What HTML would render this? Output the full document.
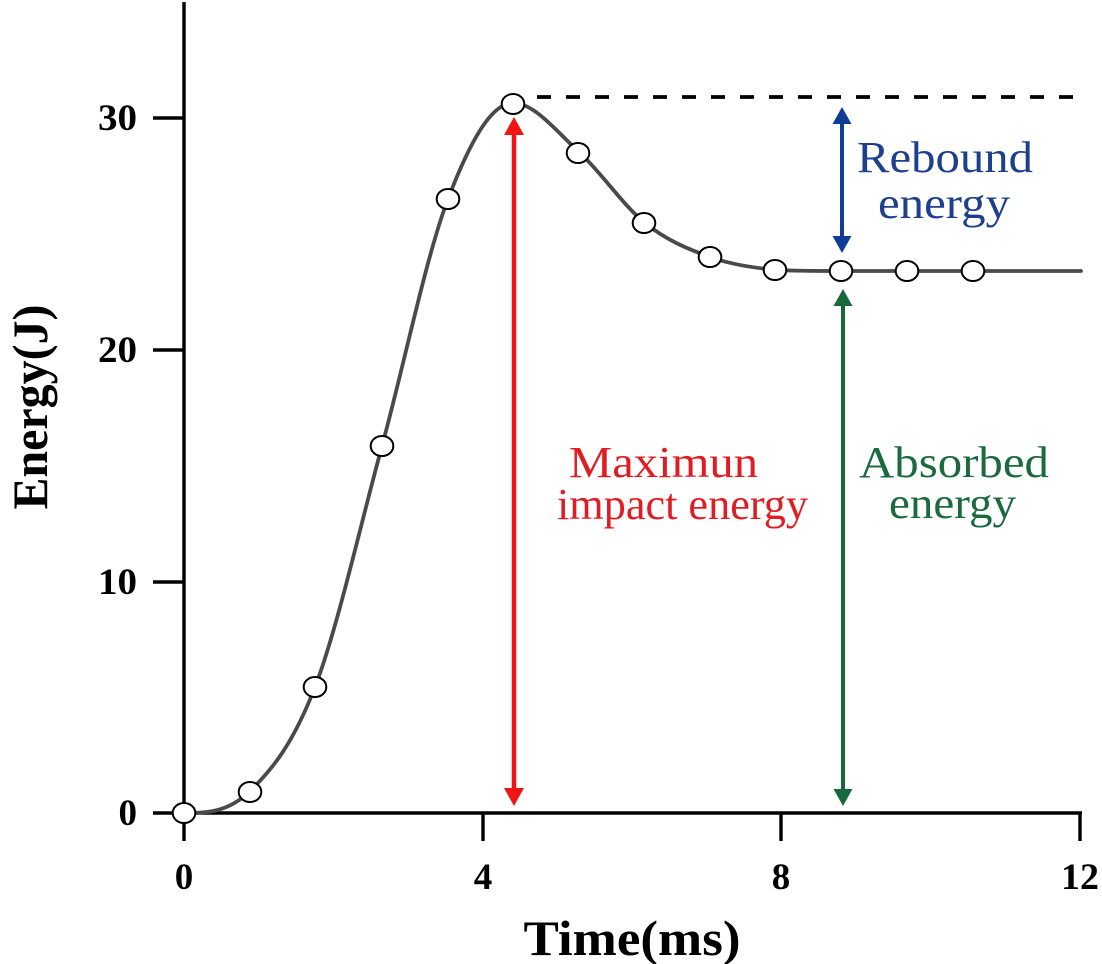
<!DOCTYPE html>
<html>
<head>
<meta charset="utf-8">
<style>
  html, body { margin:0; padding:0; background:#ffffff; }
  svg { display:block; }
  .tick { font-family:"Liberation Serif", serif; font-weight:bold; font-size:37px; fill:#000; }
  .ann { font-family:"Liberation Serif", serif; font-size:44px; }
</style>
</head>
<body>
<svg width="1102" height="964" viewBox="0 0 1102 964" xmlns="http://www.w3.org/2000/svg">
  <rect width="1102" height="964" fill="#fff"/>

  <!-- Axes -->
  <g stroke="#000" stroke-width="3.4" fill="none">
    <line x1="184" y1="2" x2="184" y2="814"/>
    <line x1="184" y1="813" x2="1082" y2="813"/>
    <!-- y ticks -->
    <line x1="153" y1="118" x2="184" y2="118"/>
    <line x1="153" y1="350" x2="184" y2="350"/>
    <line x1="153" y1="582" x2="184" y2="582"/>
    <line x1="153" y1="813" x2="184" y2="813"/>
    <!-- x ticks -->
    <line x1="184" y1="813" x2="184" y2="841"/>
    <line x1="483" y1="813" x2="483" y2="841"/>
    <line x1="781" y1="813" x2="781" y2="841"/>
    <line x1="1080" y1="813" x2="1080" y2="841"/>
  </g>

  <!-- Y tick labels -->
  <text class="tick" x="137" y="130" text-anchor="end" textLength="39" lengthAdjust="spacingAndGlyphs">30</text>
  <text class="tick" x="137" y="362" text-anchor="end" textLength="39" lengthAdjust="spacingAndGlyphs">20</text>
  <text class="tick" x="137" y="594" text-anchor="end" textLength="39" lengthAdjust="spacingAndGlyphs">10</text>
  <text class="tick" x="137" y="825" text-anchor="end">0</text>

  <!-- X tick labels -->
  <text class="tick" x="184" y="889" text-anchor="middle">0</text>
  <text class="tick" x="483" y="889" text-anchor="middle">4</text>
  <text class="tick" x="781" y="889" text-anchor="middle">8</text>
  <text class="tick" x="1080" y="889" text-anchor="middle" textLength="38" lengthAdjust="spacingAndGlyphs">12</text>

  <!-- Axis titles -->
  <text x="632" y="955" text-anchor="middle" font-family="Liberation Serif, serif" font-weight="bold" font-size="50" fill="#000" textLength="217" lengthAdjust="spacingAndGlyphs">Time(ms)</text>
  <text transform="translate(47,407) rotate(-90)" text-anchor="middle" font-family="Liberation Serif, serif" font-weight="bold" font-size="50" fill="#000" textLength="205" lengthAdjust="spacingAndGlyphs">Energy(J)</text>

  <!-- Dashed line at max -->
  <line x1="537" y1="97" x2="1086" y2="97" stroke="#000" stroke-width="3.8" stroke-dasharray="14,15"/>

  <!-- Curve -->
  <path d="M184,813 C205,813 227,813 249,792
           C271,771 292.8,744.7 315,687
           C337.2,629.3 359.8,527.3 382,446
           C404.2,364.7 426.2,256 448,199
           C469.8,142 491.2,103 513,103
           C534.8,103 557,132 579,152
           C601,172 623.2,205.5 645,223
           C666.8,240.5 688.2,249.2 710,257
           C731.8,264.8 754.2,267.7 776,270
           C797.8,271 819,271 841,271
           L1081,271"
        fill="none" stroke="#4a4a4a" stroke-width="3.8" stroke-linejoin="round" stroke-linecap="round"/>

  <!-- Markers -->
  <g fill="#fff" stroke="#000" stroke-width="2">
    <ellipse cx="184" cy="813" rx="11.3" ry="10"/>
    <ellipse cx="250" cy="792" rx="11.3" ry="10"/>
    <ellipse cx="315" cy="687" rx="11.3" ry="10"/>
    <ellipse cx="382" cy="446" rx="11.3" ry="10"/>
    <ellipse cx="448" cy="199" rx="11.3" ry="10"/>
    <ellipse cx="513" cy="104" rx="11.3" ry="10"/>
    <ellipse cx="578" cy="153" rx="11.3" ry="10"/>
    <ellipse cx="644" cy="223" rx="11.3" ry="10"/>
    <ellipse cx="710" cy="257" rx="11.3" ry="10"/>
    <ellipse cx="775" cy="270" rx="11.3" ry="10"/>
    <ellipse cx="841" cy="271" rx="11.3" ry="10"/>
    <ellipse cx="907" cy="271" rx="11.3" ry="10"/>
    <ellipse cx="973" cy="271" rx="11.3" ry="10"/>
  </g>

  <!-- Red arrow: Maximum impact energy -->
  <line x1="514" y1="132" x2="514" y2="790" stroke="#f01414" stroke-width="4.5"/>
  <polygon points="514,117 504,135 524,135" fill="#f01414"/>
  <polygon points="514,806 504,788 524,788" fill="#f01414"/>

  <!-- Blue arrow: Rebound energy -->
  <line x1="842" y1="120" x2="842" y2="240" stroke="#0f3d96" stroke-width="4"/>
  <polygon points="842,107 832.5,124 851.5,124" fill="#0f3d96"/>
  <polygon points="842,253 832.5,236 851.5,236" fill="#0f3d96"/>

  <!-- Green arrow: Absorbed energy -->
  <line x1="843" y1="302" x2="843" y2="793" stroke="#17683a" stroke-width="4"/>
  <polygon points="843,289 833.5,306 852.5,306" fill="#17683a"/>
  <polygon points="843,806 833.5,789 852.5,789" fill="#17683a"/>

  <!-- Annotations -->
  <text class="ann" x="569" y="477" fill="#e11d24" textLength="189" lengthAdjust="spacingAndGlyphs">Maximun</text>
  <text class="ann" x="557" y="519" fill="#e11d24" textLength="251" lengthAdjust="spacingAndGlyphs">impact energy</text>

  <text class="ann" x="859" y="477" fill="#1b6a3e" textLength="190" lengthAdjust="spacingAndGlyphs">Absorbed</text>
  <text class="ann" x="889" y="518" fill="#1b6a3e" textLength="127" lengthAdjust="spacingAndGlyphs">energy</text>

  <text class="ann" x="857" y="172" fill="#1d3f8e" textLength="176" lengthAdjust="spacingAndGlyphs">Rebound</text>
  <text class="ann" x="878" y="218" fill="#1d3f8e" textLength="132" lengthAdjust="spacingAndGlyphs">energy</text>
</svg>
</body>
</html>
